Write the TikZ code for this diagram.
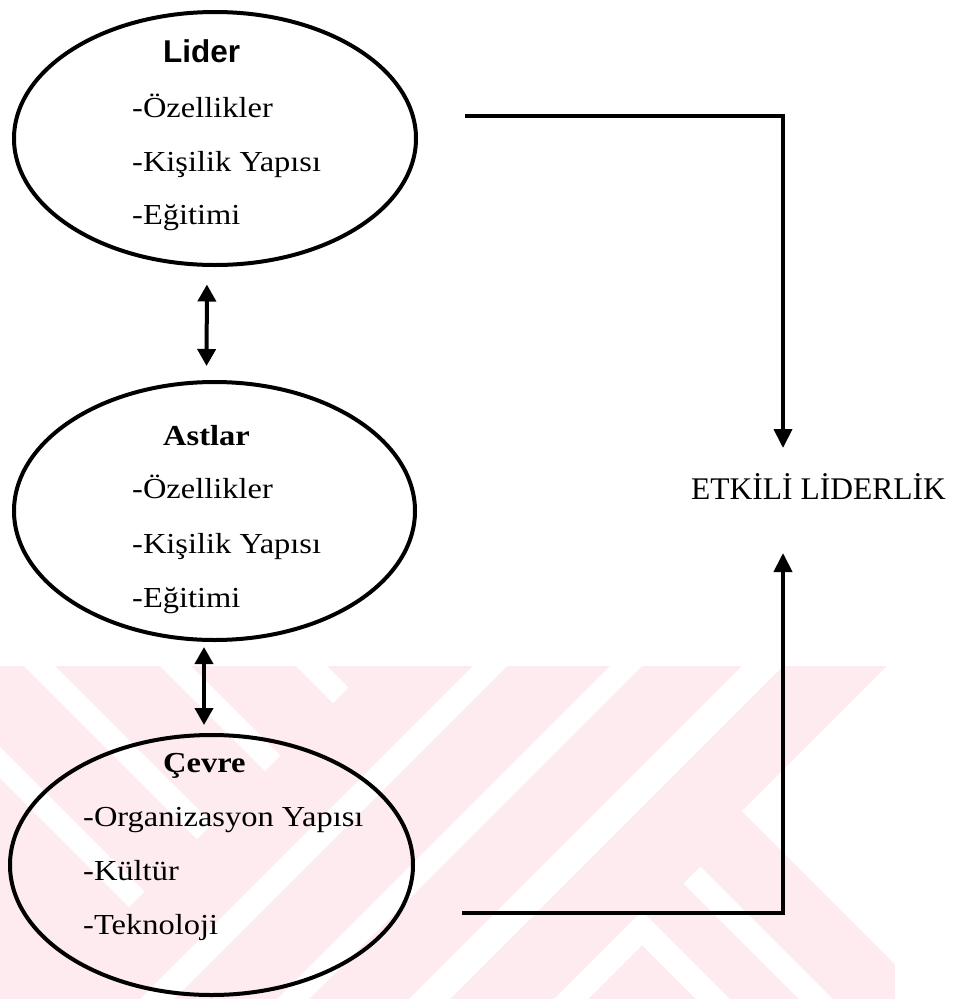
\documentclass[tikz,border=0pt]{standalone}
\usepackage{fontspec}
\usetikzlibrary{arrows.meta,shapes.geometric}
\newfontfamily\bodyserif[FakeStretch=1.12]{Liberation Serif}
\newfontfamily\plainserif{Liberation Serif}
\newfontfamily\headsans{Liberation Sans}
\definecolor{wmpink}{RGB}{253,235,239}
\begin{document}
\begin{tikzpicture}[x=1pt,y=-1pt,
  oval/.style={draw, line width=4pt, ellipse, inner sep=0pt},
  item/.style={anchor=base west, inner sep=0pt, font=\fontsize{29}{29}\bodyserif},
  head/.style={anchor=base west, inner sep=0pt, font=\fontsize{29}{29}\bodyserif\bfseries},
  link/.style={line width=4pt, line join=miter, -{Triangle[width=18pt,length=19pt]}},
  twoway/.style={line width=4pt, {Triangle[width=18pt,length=17pt]}-{Triangle[width=18pt,length=17pt]}},
]
\useasboundingbox (0,0) rectangle (959,999);

% striped emblem in the background
\begin{scope}
  \clip (0,666) rectangle (895,999);
  \fill[wmpink] (0,666) rectangle (895,999);
  % blank corner above the lower arm of the right letter
  \fill[white] (742,811) -- (953,600) -- (1300,600) -- (1300,1369) -- cycle;
  % rising gaps
  \foreach \a/\b in {1139/1173, 1276/1308, 1408/1449}
    \fill[white] ({\a-600},600) -- ({\b-600},600) -- ({\b-1100},1100) -- ({\a-1100},1100) -- cycle;
  % falling gaps on the left side
  \begin{scope}
    \clip (0,0) -- (1036,0) -- (0,1036) -- cycle;
    \foreach \a/\b in {-778/-747, -642/-611, -506/-475, -370/-339}
      \fill[white] ({\a+600},600) -- ({\b+600},600) -- ({\b+1100},1100) -- ({\a+1100},1100) -- cycle;
  \end{scope}
  % falling gap in the lower arm
  \fill[white] (683.5,883.5) -- (700.5,866.5) -- (1100.5,1266.5) -- (1083.5,1283.5) -- cycle;
  % inverted V at the bottom
  \fill[white] (625,928) -- (642,911) -- (1042,1311) -- (1025,1328) -- cycle;
  \fill[white] (625,928) -- (642,945) -- (342,1245) -- (308,1245) -- cycle;
\end{scope}

% the three ellipses
\node[oval, minimum width=402pt, minimum height=253pt] (lider)  at (215,138.5) {};
\node[oval, minimum width=401pt, minimum height=258pt] (astlar) at (214.5,511) {};
\node[oval, minimum width=403pt, minimum height=260pt] (cevre)  at (211.5,865) {};

% texts inside the ellipses
\node[anchor=base west, inner sep=0pt, font=\fontsize{31.5}{31.5}\headsans\bfseries] (lidert) at (163,62) {Lider};
\node[item] (lider1) at (132,117) {-Özellikler};
\node[item] (lider2) at (132,171) {-Kişilik Yapısı};
\node[item] (lider3) at (132,224) {-Eğitimi};

\node[head] (astlart) at (163,445) {Astlar};
\node[item] (astlar1) at (132,498) {-Özellikler};
\node[item] (astlar2) at (132,553) {-Kişilik Yapısı};
\node[item] (astlar3) at (132,607) {-Eğitimi};

\node[head] (cevret) at (163,772) {Çevre};
\node[item] (cevre1) at (83,826) {-Organizasyon Yapısı};
\node[item] (cevre2) at (83,880) {-Kültür};
\node[item] (cevre3) at (83,934) {-Teknoloji};

% outcome
\node[anchor=base west, inner sep=0pt, font=\fontsize{31.5}{31.5}\plainserif] (etkili) at (691,499) {ETKİLİ LİDERLİK};

% mutual links between the ellipses
\draw[twoway, shorten <=17.5pt, shorten >=14pt] ([xshift=-8pt]lider.south) -- ([xshift=-8pt]astlar.north);
\draw[twoway, shorten <=5pt, shorten >=8pt] ([xshift=-10.5pt]astlar.south) -- ([xshift=-7.5pt]cevre.north);

% links towards the outcome
\coordinate (toptail) at (465,116);
\coordinate (topend)  at (783,448);
\coordinate (bottail) at (462,913);
\coordinate (botend)  at (783,553);
\draw[link] (toptail) -| (topend);
\draw[link] (bottail) -| (botend);
\end{tikzpicture}
\end{document}
